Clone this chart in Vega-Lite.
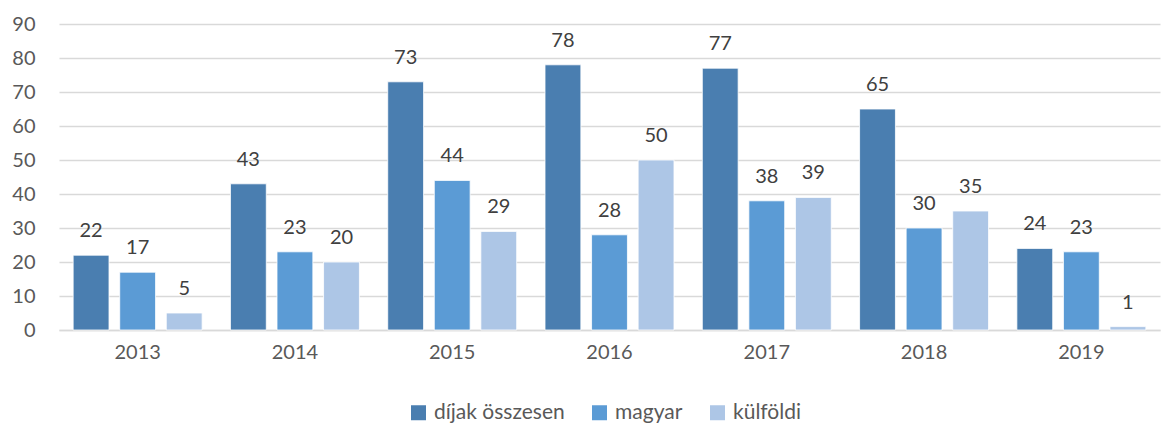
{
  "$schema": "https://vega.github.io/schema/vega-lite/v6.json",
  "width": 1101,
  "height": 306,
  "autosize": "none",
  "padding": {"left": 59, "top": 24, "right": 8, "bottom": 98},
  "background": "white",
  "config": {
    "font": "Lato",
    "view": {"stroke": null}
  },
  "data": {
    "values": [
      {"year": "2013", "series": "díjak összesen", "value": 22},
      {"year": "2013", "series": "magyar", "value": 17},
      {"year": "2013", "series": "külföldi", "value": 5},
      {"year": "2014", "series": "díjak összesen", "value": 43},
      {"year": "2014", "series": "magyar", "value": 23},
      {"year": "2014", "series": "külföldi", "value": 20},
      {"year": "2015", "series": "díjak összesen", "value": 73},
      {"year": "2015", "series": "magyar", "value": 44},
      {"year": "2015", "series": "külföldi", "value": 29},
      {"year": "2016", "series": "díjak összesen", "value": 78},
      {"year": "2016", "series": "magyar", "value": 28},
      {"year": "2016", "series": "külföldi", "value": 50},
      {"year": "2017", "series": "díjak összesen", "value": 77},
      {"year": "2017", "series": "magyar", "value": 38},
      {"year": "2017", "series": "külföldi", "value": 39},
      {"year": "2018", "series": "díjak összesen", "value": 65},
      {"year": "2018", "series": "magyar", "value": 30},
      {"year": "2018", "series": "külföldi", "value": 35},
      {"year": "2019", "series": "díjak összesen", "value": 24},
      {"year": "2019", "series": "magyar", "value": 23},
      {"year": "2019", "series": "külföldi", "value": 1}
    ]
  },
  "encoding": {
    "x": {
      "field": "year", "type": "nominal",
      "scale": {"paddingInner": 0.18, "paddingOuter": 0.09},
      "axis": {"title": null, "labelAngle": 0, "ticks": false, "domainColor": "#d9d9d9", "domainWidth": 1.5, "labelPadding": 12, "labelFontSize": 20, "labelColor": "#595959", "labelFont": "Lato"}
    },
    "xOffset": {
      "field": "series", "type": "nominal",
      "sort": ["díjak összesen", "magyar", "külföldi"],
      "scale": {"paddingInner": 0.23, "paddingOuter": 0}
    },
    "y": {
      "field": "value", "type": "quantitative",
      "scale": {"domain": [0, 90], "nice": false},
      "axis": {"title": null, "values": [0, 10, 20, 30, 40, 50, 60, 70, 80, 90], "labelOverlap": false, "domain": false, "ticks": false, "gridColor": "#d9d9d9", "gridWidth": 1.3, "labelPadding": 24, "labelFontSize": 20, "labelColor": "#595959", "labelFont": "Lato"}
    }
  },
  "layer": [
    {
      "mark": {"type": "bar", "stroke": "white", "strokeWidth": 0.8},
      "encoding": {
        "color": {
          "field": "series", "type": "nominal",
          "sort": ["díjak összesen", "magyar", "külföldi"],
          "scale": {"domain": ["díjak összesen", "magyar", "külföldi"], "range": ["#4a7eb0", "#5b9bd5", "#adc6e6"]},
          "legend": {
            "title": null, "orient": "none", "legendX": 349, "legendY": 378, "direction": "horizontal",
            "symbolType": "square", "symbolSize": 225, "symbolStrokeWidth": 0,
            "labelFontSize": 21, "labelColor": "#595959", "labelFont": "Lato",
            "columnPadding": 24, "labelOffset": 5
          }
        }
      }
    },
    {
      "mark": {"type": "text", "fontSize": 20, "color": "#404040", "baseline": "middle", "dy": -24, "font": "Lato"},
      "encoding": {"text": {"field": "value", "type": "quantitative"}}
    }
  ]
}
